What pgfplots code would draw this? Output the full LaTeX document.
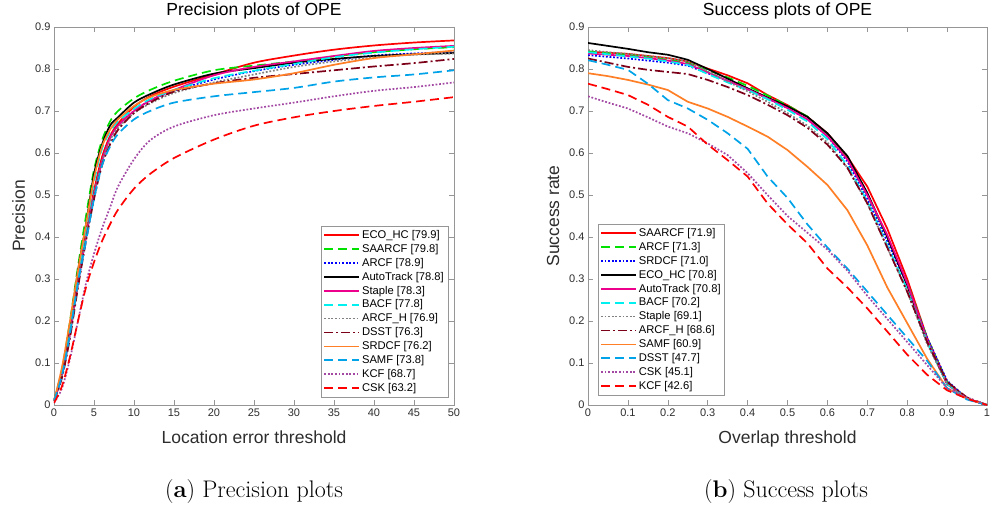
\documentclass[border=0pt]{standalone}
\usepackage{pgfplots}
\pgfplotsset{compat=1.18}
\usepackage{fontspec}
\newfontfamily\plotfont{Liberation Sans}

\definecolor{axgray}{RGB}{150,150,150}
\definecolor{tickgray}{RGB}{45,45,45}
\definecolor{cGreen}{RGB}{0,225,0}
\definecolor{cCyan}{RGB}{0,240,240}
\definecolor{cGray}{RGB}{128,128,128}
\definecolor{cDark}{RGB}{125,0,25}
\definecolor{cOrange}{RGB}{255,127,39}
\definecolor{cSky}{RGB}{0,162,232}
\definecolor{cPurple}{RGB}{163,73,164}
\definecolor{cBlue}{RGB}{0,0,255}
\definecolor{cRed}{RGB}{255,0,0}

\tikzset{
  sRed/.style={cRed, line width=1.7pt},
  sGdash/.style={cGreen, line width=1.7pt, dash pattern=on 9pt off 5pt},
  sBdot/.style={cBlue, line width=1.7pt, dash pattern=on 1.8pt off 1.8pt},
  sBlk/.style={black, line width=1.7pt},
  sMag/.style={magenta, line width=1.7pt},
  sCdash/.style={cCyan, line width=1.7pt, dash pattern=on 9pt off 5pt},
  sGdot/.style={cGray, line width=1.7pt, dash pattern=on 1.8pt off 1.8pt},
  sDd/.style={cDark, line width=1.7pt, dash pattern=on 9pt off 3pt on 2pt off 3pt},
  sOr/.style={cOrange, line width=1.7pt},
  sSdash/.style={cSky, line width=1.7pt, dash pattern=on 9pt off 5pt},
  sPdot/.style={cPurple, line width=1.7pt, dash pattern=on 1.8pt off 1.8pt},
  sRdash/.style={cRed, line width=1.7pt, dash pattern=on 9pt off 5pt},
}

\pgfplotsset{
  ope/.style={
    scale only axis, width=400pt, height=378pt,
    ymin=0, ymax=0.9,
    ytick={0,0.1,0.2,0.3,0.4,0.5,0.6,0.7,0.8,0.9},
    axis line style={draw=axgray},
    tick style={draw=axgray, line width=0.5pt},
    tick align=inside, major tick length=5pt,
    every tick label/.append style={font=\fontsize{11}{13}\selectfont\plotfont, text=tickgray},
    /pgf/number format/assume math mode=true,
    title style={font=\fontsize{17.5}{20}\selectfont\plotfont, text=black,
      at={(0.5,1)}, anchor=base, yshift=5pt},
    xlabel style={font=\fontsize{17.5}{20}\selectfont\plotfont, text=tickgray,
      at={(0.5,0)}, anchor=base, yshift=-38pt},
    ylabel style={font=\fontsize{17.5}{20}\selectfont\plotfont, text=tickgray,
      at={(0,0.5)}, anchor=base, yshift=29pt},
    legend style={draw=axgray, fill=white, font=\fontsize{11.2}{13}\selectfont\plotfont,
      inner xsep=2pt, inner ysep=2pt, row sep=0.4pt, column sep=0pt,
      cells={anchor=west, inner xsep=1pt, inner ysep=1pt, text height=8pt, text depth=2.8pt}},
    legend image code/.code={\draw[#1] (0pt,0pt) -- (35pt,0pt);},
  },
}

\begin{document}
\begin{tikzpicture}
\useasboundingbox (0pt,0pt) rectangle (994pt,507pt);

% ---------------- Precision plots ----------------
\begin{axis}[ope, at={(54pt,102pt)}, anchor=south west,
    xmin=0, xmax=50, xtick={0,5,10,15,20,25,30,35,40,45,50},
    title={Precision plots of OPE},
    xlabel={Location error threshold}, ylabel={Precision},
    legend style={at={(1,0)}, anchor=south east, xshift=-6pt, yshift=8pt},
]
\addplot[sRed, smooth] coordinates {(0,0.01)(1,0.075)(2,0.18)(3,0.30)(4,0.41)(5,0.51)(6,0.59)(7,0.64)(8,0.67)(10,0.71)(12,0.735)(15,0.758)(20,0.787)(25,0.815)(30,0.832)(35,0.846)(40,0.856)(45,0.863)(50,0.868)};
\addlegendentry{ECO\_HC [79.9]}
\addplot[sGdash, smooth] coordinates {(0,0.01)(1,0.085)(2,0.20)(3,0.33)(4,0.45)(5,0.56)(6,0.63)(7,0.675)(8,0.70)(10,0.73)(12,0.75)(15,0.772)(20,0.797)(25,0.808)(30,0.818)(35,0.83)(40,0.84)(45,0.847)(50,0.852)};
\addlegendentry{SAARCF [79.8]}
\addplot[sBdot, smooth] coordinates {(0,0.01)(1,0.07)(2,0.17)(3,0.29)(4,0.40)(5,0.50)(6,0.58)(7,0.635)(8,0.665)(10,0.70)(12,0.725)(15,0.748)(20,0.775)(25,0.795)(30,0.81)(35,0.822)(40,0.832)(45,0.837)(50,0.84)};
\addlegendentry{ARCF [78.9]}
\addplot[sBlk, smooth] coordinates {(0,0.01)(1,0.08)(2,0.19)(3,0.32)(4,0.43)(5,0.55)(6,0.62)(7,0.665)(8,0.685)(10,0.72)(12,0.74)(15,0.763)(20,0.789)(25,0.802)(30,0.815)(35,0.824)(40,0.831)(45,0.835)(50,0.838)};
\addlegendentry{AutoTrack [78.8]}
\addplot[sMag, smooth] coordinates {(0,0.01)(1,0.07)(2,0.17)(3,0.29)(4,0.40)(5,0.50)(6,0.58)(7,0.635)(8,0.665)(10,0.70)(12,0.725)(15,0.75)(20,0.785)(25,0.805)(30,0.818)(35,0.831)(40,0.843)(45,0.85)(50,0.855)};
\addlegendentry{Staple [78.3]}
\addplot[sCdash, smooth] coordinates {(0,0.01)(1,0.075)(2,0.18)(3,0.30)(4,0.42)(5,0.53)(6,0.61)(7,0.65)(8,0.675)(10,0.705)(12,0.728)(15,0.75)(20,0.778)(25,0.796)(30,0.812)(35,0.828)(40,0.839)(45,0.847)(50,0.853)};
\addlegendentry{BACF [77.8]}
\addplot[sGdot, smooth] coordinates {(0,0.01)(1,0.07)(2,0.17)(3,0.29)(4,0.40)(5,0.50)(6,0.58)(7,0.63)(8,0.66)(10,0.695)(12,0.718)(15,0.743)(20,0.768)(25,0.787)(30,0.805)(35,0.818)(40,0.828)(45,0.834)(50,0.837)};
\addlegendentry{ARCF\_H [76.9]}
\addplot[sDd, smooth] coordinates {(0,0.01)(1,0.065)(2,0.16)(3,0.28)(4,0.39)(5,0.49)(6,0.57)(7,0.62)(8,0.655)(10,0.695)(12,0.72)(15,0.746)(20,0.766)(25,0.779)(30,0.788)(35,0.797)(40,0.806)(45,0.814)(50,0.824)};
\addlegendentry{DSST [76.3]}
\addplot[sOr, smooth] coordinates {(0,0.01)(1,0.09)(2,0.20)(3,0.32)(4,0.43)(5,0.54)(6,0.615)(7,0.655)(8,0.68)(10,0.712)(12,0.733)(15,0.75)(20,0.765)(25,0.775)(30,0.79)(35,0.81)(40,0.826)(45,0.835)(50,0.844)};
\addlegendentry{SRDCF [76.2]}
\addplot[sSdash, smooth] coordinates {(0,0.01)(1,0.07)(2,0.17)(3,0.29)(4,0.39)(5,0.49)(6,0.57)(7,0.615)(8,0.645)(10,0.68)(12,0.70)(15,0.72)(20,0.735)(25,0.745)(30,0.755)(35,0.77)(40,0.78)(45,0.787)(50,0.797)};
\addlegendentry{SAMF [73.8]}
\addplot[sPdot, smooth] coordinates {(0,0.005)(1,0.04)(2,0.11)(3,0.20)(4,0.29)(5,0.36)(6,0.42)(7,0.47)(8,0.52)(10,0.585)(12,0.63)(15,0.663)(20,0.69)(25,0.706)(30,0.72)(35,0.735)(40,0.748)(45,0.757)(50,0.768)};
\addlegendentry{KCF [68.7]}
\addplot[sRdash, smooth] coordinates {(0,0.005)(1,0.045)(2,0.115)(3,0.20)(4,0.28)(5,0.34)(6,0.39)(7,0.43)(8,0.465)(10,0.515)(12,0.55)(15,0.588)(20,0.632)(25,0.665)(30,0.685)(35,0.70)(40,0.712)(45,0.722)(50,0.733)};
\addlegendentry{CSK [63.2]}
\end{axis}

% ---------------- Success plots ----------------
\begin{axis}[ope, at={(588pt,102pt)}, anchor=south west, width=399pt,
    xmin=0, xmax=1, xtick={0,0.1,0.2,0.3,0.4,0.5,0.6,0.7,0.8,0.9,1},
    title={Success plots of OPE},
    xlabel={Overlap threshold}, ylabel={Success rate},
    legend style={at={(0,0)}, anchor=south west, xshift=10pt, yshift=10pt},
]
\addplot[sRed] coordinates {(0,0.841)(0.05,0.839)(0.1,0.836)(0.15,0.831)(0.2,0.826)(0.25,0.818)(0.3,0.801)(0.35,0.785)(0.4,0.766)(0.45,0.738)(0.5,0.714)(0.55,0.686)(0.6,0.647)(0.65,0.591)(0.7,0.52)(0.75,0.42)(0.8,0.30)(0.85,0.16)(0.9,0.055)(0.95,0.015)(1,0)};
\addlegendentry{SAARCF [71.9]}
\addplot[sGdash] coordinates {(0,0.842)(0.05,0.838)(0.1,0.834)(0.15,0.829)(0.2,0.822)(0.25,0.815)(0.3,0.797)(0.35,0.78)(0.4,0.76)(0.45,0.737)(0.5,0.713)(0.55,0.687)(0.6,0.645)(0.65,0.585)(0.7,0.50)(0.75,0.40)(0.8,0.29)(0.85,0.16)(0.9,0.055)(0.95,0.015)(1,0)};
\addlegendentry{ARCF [71.3]}
\addplot[sBdot] coordinates {(0,0.833)(0.05,0.829)(0.1,0.825)(0.15,0.82)(0.2,0.815)(0.25,0.808)(0.3,0.79)(0.35,0.772)(0.4,0.752)(0.45,0.73)(0.5,0.707)(0.55,0.68)(0.6,0.64)(0.65,0.58)(0.7,0.49)(0.75,0.39)(0.8,0.285)(0.85,0.16)(0.9,0.058)(0.95,0.015)(1,0)};
\addlegendentry{SRDCF [71.0]}
\addplot[sBlk] coordinates {(0,0.862)(0.05,0.855)(0.1,0.848)(0.15,0.84)(0.2,0.834)(0.25,0.822)(0.3,0.80)(0.35,0.777)(0.4,0.754)(0.45,0.732)(0.5,0.711)(0.55,0.686)(0.6,0.647)(0.65,0.593)(0.7,0.505)(0.75,0.40)(0.8,0.285)(0.85,0.15)(0.9,0.05)(0.95,0.015)(1,0)};
\addlegendentry{ECO\_HC [70.8]}
\addplot[sMag] coordinates {(0,0.837)(0.05,0.834)(0.1,0.831)(0.15,0.826)(0.2,0.82)(0.25,0.812)(0.3,0.792)(0.35,0.772)(0.4,0.752)(0.45,0.73)(0.5,0.707)(0.55,0.68)(0.6,0.64)(0.65,0.585)(0.7,0.50)(0.75,0.405)(0.8,0.29)(0.85,0.155)(0.9,0.05)(0.95,0.015)(1,0)};
\addlegendentry{AutoTrack [70.8]}
\addplot[sCdash] coordinates {(0,0.84)(0.05,0.835)(0.1,0.83)(0.15,0.825)(0.2,0.818)(0.25,0.81)(0.3,0.788)(0.35,0.768)(0.4,0.75)(0.45,0.728)(0.5,0.703)(0.55,0.675)(0.6,0.633)(0.65,0.57)(0.7,0.485)(0.75,0.38)(0.8,0.275)(0.85,0.15)(0.9,0.05)(0.95,0.015)(1,0)};
\addlegendentry{BACF [70.2]}
\addplot[sGdot] coordinates {(0,0.845)(0.05,0.84)(0.1,0.836)(0.15,0.831)(0.2,0.826)(0.25,0.818)(0.3,0.795)(0.35,0.77)(0.4,0.747)(0.45,0.722)(0.5,0.695)(0.55,0.665)(0.6,0.625)(0.65,0.565)(0.7,0.48)(0.75,0.375)(0.8,0.27)(0.85,0.145)(0.9,0.05)(0.95,0.015)(1,0)};
\addlegendentry{Staple [69.1]}
\addplot[sDd] coordinates {(0,0.825)(0.05,0.815)(0.1,0.805)(0.15,0.798)(0.2,0.793)(0.25,0.788)(0.3,0.774)(0.35,0.757)(0.4,0.738)(0.45,0.715)(0.5,0.69)(0.55,0.66)(0.6,0.62)(0.65,0.565)(0.7,0.48)(0.75,0.375)(0.8,0.27)(0.85,0.15)(0.9,0.055)(0.95,0.018)(1,0)};
\addlegendentry{ARCF\_H [68.6]}
\addplot[sOr] coordinates {(0,0.79)(0.05,0.783)(0.1,0.774)(0.15,0.763)(0.2,0.75)(0.25,0.722)(0.3,0.706)(0.35,0.686)(0.4,0.663)(0.45,0.639)(0.5,0.607)(0.55,0.567)(0.6,0.524)(0.65,0.464)(0.7,0.38)(0.75,0.28)(0.8,0.195)(0.85,0.11)(0.9,0.04)(0.95,0.015)(1,0)};
\addlegendentry{SAMF [60.9]}
\addplot[sSdash] coordinates {(0,0.821)(0.05,0.81)(0.1,0.798)(0.15,0.765)(0.2,0.726)(0.25,0.706)(0.3,0.679)(0.35,0.647)(0.4,0.61)(0.45,0.544)(0.5,0.493)(0.55,0.43)(0.6,0.375)(0.65,0.325)(0.7,0.27)(0.75,0.215)(0.8,0.16)(0.85,0.105)(0.9,0.04)(0.95,0.013)(1,0)};
\addlegendentry{DSST [47.7]}
\addplot[sPdot] coordinates {(0,0.735)(0.05,0.72)(0.1,0.706)(0.15,0.685)(0.2,0.663)(0.25,0.647)(0.3,0.623)(0.35,0.595)(0.4,0.552)(0.45,0.50)(0.5,0.45)(0.55,0.41)(0.6,0.37)(0.65,0.32)(0.7,0.26)(0.75,0.205)(0.8,0.15)(0.85,0.095)(0.9,0.04)(0.95,0.018)(1,0)};
\addlegendentry{CSK [45.1]}
\addplot[sRdash] coordinates {(0,0.765)(0.05,0.752)(0.1,0.738)(0.15,0.715)(0.2,0.686)(0.25,0.663)(0.3,0.62)(0.35,0.583)(0.4,0.544)(0.45,0.48)(0.5,0.43)(0.55,0.385)(0.6,0.325)(0.65,0.28)(0.7,0.23)(0.75,0.175)(0.8,0.12)(0.85,0.072)(0.9,0.035)(0.95,0.015)(1,0)};
\addlegendentry{KCF [42.6]}
\end{axis}

\node[font=\fontsize{24}{28}\selectfont, anchor=base] at (254pt,10pt) {(\textbf{a}) Precision plots};
\node[font=\fontsize{24}{28}\selectfont, anchor=base] at (786pt,10pt) {(\textbf{b}) Success plots};
\end{tikzpicture}
\end{document}
